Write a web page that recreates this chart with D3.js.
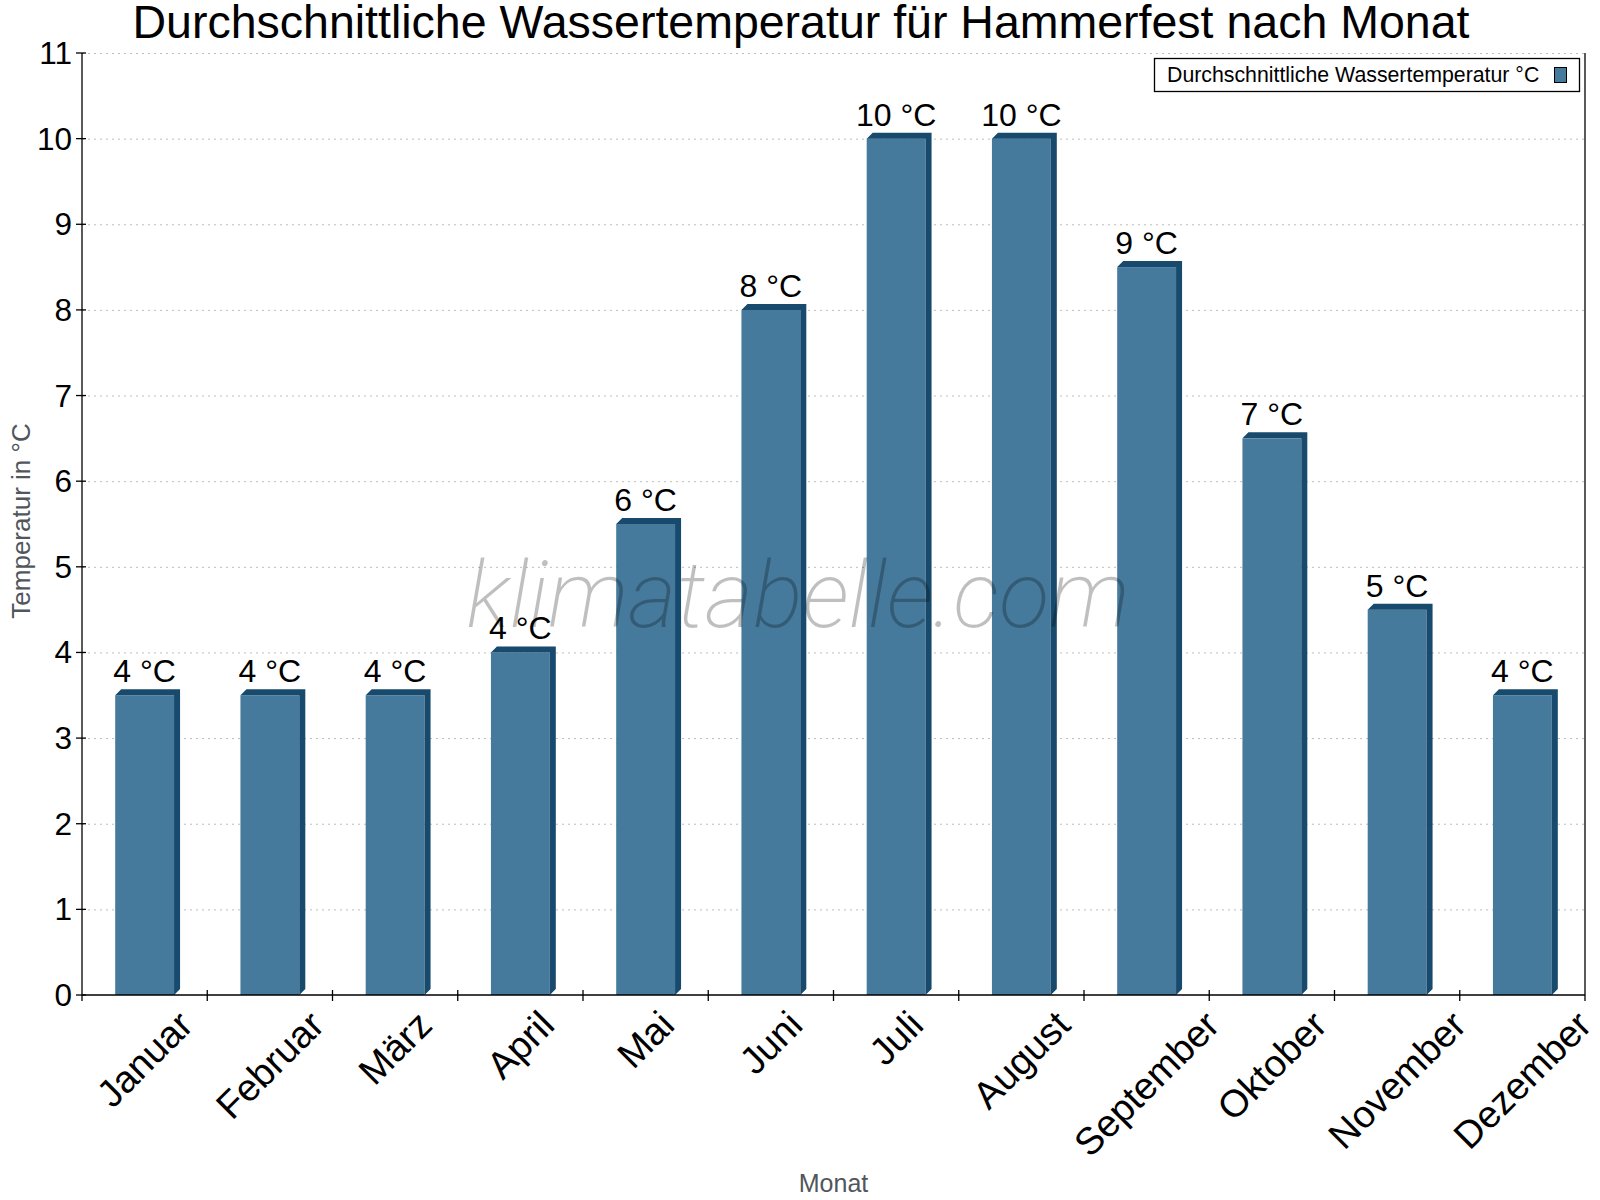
<!DOCTYPE html>
<html>
<head>
<meta charset="utf-8">
<script src="https://cdn.jsdelivr.net/npm/d3@7"></script>
<style>
  body { margin: 0; background: #fff; }
  text { font-family: "Liberation Sans", Arial, sans-serif; }
</style>
</head>
<body>
<div id="chart"></div>
<script>
var months = ["Januar", "Februar", "März", "April", "Mai", "Juni", "Juli",
              "August", "September", "Oktober", "November", "Dezember"];
var waterTemp = [3.5, 3.5, 3.5, 4, 5.5, 8, 10, 10, 8.5, 6.5, 4.5, 3.5];
var tempLabels = ["4 °C", "4 °C", "4 °C", "4 °C", "6 °C", "8 °C", "10 °C",
                  "10 °C", "9 °C", "7 °C", "5 °C", "4 °C"];
var yTicks = [0, 1, 2, 3, 4, 5, 6, 7, 8, 9, 10, 11];
var seriesName = "Durchschnittliche Wassertemperatur °C";

var W = 1600, H = 1200;
var plotLeft = 82, plotRight = 1585, plotTop = 53, plotBottom = 995;
var depth = 6;
var front = "#467a9c", dark = "#174a6c";

var svg = d3.select("#chart")
  .append("svg")
    .attr("width", W)
    .attr("height", H);

var x = d3.scaleBand()
    .domain(months)
    .range([plotLeft, plotRight]);

var y = d3.scaleLinear()
    .domain([0, 11])
    .range([plotBottom, plotTop]);

// grid lines
svg.append("g")
  .selectAll("line")
  .data(yTicks.slice(1))
  .enter()
  .append("line")
    .attr("x1", plotLeft)
    .attr("x2", plotRight)
    .attr("y1", function(d) { return y(d) + 0.5; })
    .attr("y2", function(d) { return y(d) + 0.5; })
    .attr("stroke", "#bdbdbd")
    .attr("stroke-dasharray", "2,4");

// bars (front + dark side and top)
var barW = x.bandwidth() * 0.47;
var bars = svg.append("g")
  .selectAll("g")
  .data(waterTemp)
  .enter()
  .append("g");

bars.append("rect")
    .attr("x", function(d, i) { return x(months[i]) + (x.bandwidth() - barW) / 2; })
    .attr("y", function(d) { return y(d); })
    .attr("width", barW)
    .attr("height", function(d) { return y(0) - y(d); })
    .attr("fill", front);

bars.append("path")
    .attr("fill", dark)
    .attr("d", function(d, i) {
      var x0 = x(months[i]) + (x.bandwidth() - barW) / 2, x1 = x0 + barW;
      var yt = y(d), yb = y(0);
      return "M" + x0 + "," + yt + "L" + (x0 + depth) + "," + (yt - depth) +
             "L" + (x1 + depth) + "," + (yt - depth) + "L" + (x1 + depth) + "," + (yb - depth) +
             "L" + x1 + "," + yb + "L" + x1 + "," + yt + "Z";
    });

// value labels
svg.append("g")
  .selectAll("text")
  .data(waterTemp)
  .enter()
  .append("text")
    .attr("x", function(d, i) { return x(months[i]) + x.bandwidth() / 2; })
    .attr("y", function(d) { return y(d) - depth - 7; })
    .attr("text-anchor", "middle")
    .style("font-size", "32px")
    .text(function(d, i) { return tempLabels[i]; });

// watermark
svg.append("text")
    .attr("x", 798)
    .attr("y", 627)
    .attr("text-anchor", "middle")
    .style("font-family", "Roboto, 'Liberation Sans', sans-serif")
    .style("font-style", "italic")
    .style("font-weight", 200)
    .style("font-size", "93px")
    .attr("fill", "rgba(0,0,0,0.25)")
    .text("klimatabelle.com");

// axes lines
var axisG = svg.append("g").attr("stroke", "#000").attr("stroke-width", 1.3);
axisG.append("line").attr("x1", plotLeft).attr("x2", plotLeft).attr("y1", plotTop).attr("y2", plotBottom);
axisG.append("line").attr("x1", plotRight).attr("x2", plotRight).attr("y1", plotTop).attr("y2", plotBottom);
axisG.append("line").attr("x1", plotLeft).attr("x2", plotRight).attr("y1", plotBottom).attr("y2", plotBottom);

// y ticks
axisG.selectAll(".yt")
  .data(yTicks)
  .enter()
  .append("line")
    .attr("x1", plotLeft - 6)
    .attr("x2", plotLeft + 4)
    .attr("y1", function(d) { return y(d); })
    .attr("y2", function(d) { return y(d); });

svg.append("g")
  .selectAll("text")
  .data(yTicks)
  .enter()
  .append("text")
    .attr("x", plotLeft - 10)
    .attr("y", function(d) { return y(d) + 11; })
    .attr("text-anchor", "end")
    .style("font-size", "31.5px")
    .text(function(d) { return d; });

// x ticks at band edges
var edges = months.map(function(m) { return x(m); }).concat([plotRight]);
axisG.selectAll(".xt")
  .data(edges)
  .enter()
  .append("line")
    .attr("x1", function(d) { return d; })
    .attr("x2", function(d) { return d; })
    .attr("y1", function(d, i) { return (i === 0 || i === edges.length - 1) ? plotBottom : plotBottom - 5; })
    .attr("y2", plotBottom + 6);

// x labels rotated
var xl = svg.append("g")
  .selectAll("text")
  .data(months)
  .enter()
  .append("text")
    .attr("text-anchor", "middle")
    .attr("dominant-baseline", "central")
    .style("font-size", "38px")
    .text(function(d) { return d; });

xl.each(function(d) {
  var L = this.getComputedTextLength();
  var half = 0.7071 * (L + 38 * 0.75) / 2;
  var cx = x(d) + x.bandwidth() / 2, cy = 1008 + half;
  d3.select(this)
    .attr("x", cx)
    .attr("y", cy)
    .attr("transform", "rotate(-45," + cx + "," + cy + ")");
});

// axis titles
svg.append("text")
    .attr("x", (plotLeft + plotRight) / 2)
    .attr("y", 1192)
    .attr("text-anchor", "middle")
    .attr("fill", "#50565c")
    .style("font-size", "25px")
    .text("Monat");

svg.append("text")
    .attr("transform", "translate(30,521) rotate(-90)")
    .attr("text-anchor", "middle")
    .attr("fill", "#50565c")
    .style("font-size", "26px")
    .text("Temperatur in °C");

// title
svg.append("text")
    .attr("x", 801)
    .attr("y", 38)
    .attr("text-anchor", "middle")
    .style("font-size", "46.5px")
    .text("Durchschnittliche Wassertemperatur für Hammerfest nach Monat");

// legend
var lg = svg.append("g");
lg.append("rect")
    .attr("x", 1154.5)
    .attr("y", 58.5)
    .attr("width", 425)
    .attr("height", 33)
    .attr("fill", "#fff")
    .attr("stroke", "#000")
    .attr("stroke-width", 1.3);
lg.append("text")
    .attr("x", 1167)
    .attr("y", 82)
    .style("font-size", "21.3px")
    .text(seriesName);
lg.append("rect")
    .attr("x", 1554.5)
    .attr("y", 67.5)
    .attr("width", 12)
    .attr("height", 15)
    .attr("fill", front)
    .attr("stroke", "#000")
    .attr("stroke-width", 1);
</script>
</body>
</html>
